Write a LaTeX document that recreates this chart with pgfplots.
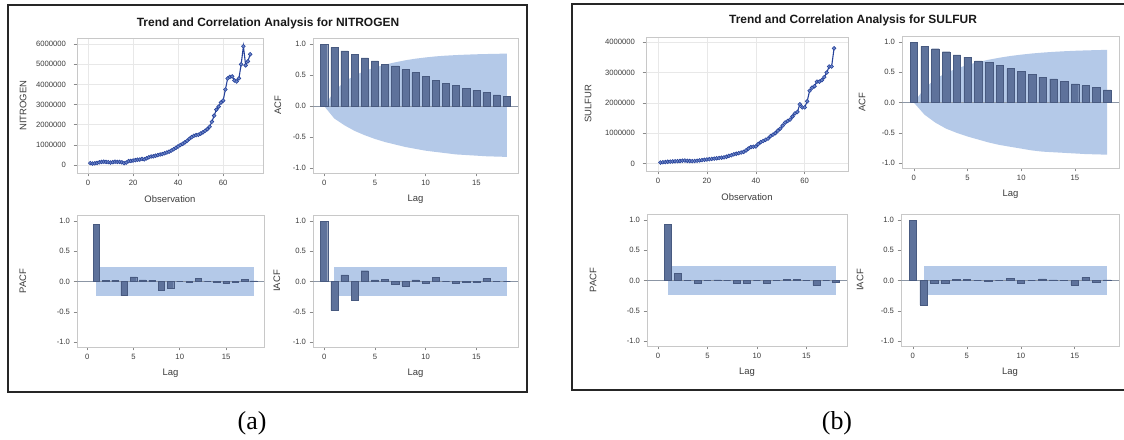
\documentclass[border=0pt]{standalone}
\usepackage{pgfplots}
\pgfplotsset{compat=1.18}
\usepackage{fontspec}
\setmainfont{Liberation Sans}
\newfontfamily\seriffont{Liberation Serif}
\definecolor{barfill}{RGB}{94,114,155}
\definecolor{baredge}{RGB}{72,90,128}
\definecolor{band}{RGB}{180,201,232}
\definecolor{framec}{RGB}{200,200,200}
\definecolor{tickc}{RGB}{60,60,60}
\definecolor{linec}{RGB}{38,66,155}
\definecolor{markc}{RGB}{110,135,200}
\definecolor{gridc}{RGB}{232,232,232}
\definecolor{zeroc}{RGB}{140,150,165}

\pgfplotsset{
  sasbase/.style={
    scale only axis,
    anchor=south west,
    axis line style={framec, line width=0.9pt},
    tick style={color=tickc!60, line width=0.6pt},
    tick align=outside,
    major tick length=3.5pt,
    xtick pos=bottom, ytick pos=left,
    /pgf/number format/assume math mode=true,
    ticklabel style={font=\fontsize{7.7}{8}\selectfont, text=tickc},
    label style={font=\fontsize{9.5}{10}\selectfont, text=tickc},
    xlabel shift=3pt,
    every axis y label/.style={rotate=90, anchor=center, font=\fontsize{9.5}{10}\selectfont, text=tickc},
  },
  corr/.style={
    sasbase,
    xmin=-1.1, xmax=19.1, ymin=-1.08, ymax=1.1,
    xtick={0,5,10,15}, ytick={-1,-0.5,0,0.5,1},
    yticklabel={\pgfmathprintnumber[fixed,fixed zerofill,precision=1,assume math mode=true]{\tick}},
    xlabel={Lag},
  },
  bars/.style={ybar, bar width=0.7, fill=barfill, draw=baredge, line width=0.4pt},
  zeroline/.style={zeroc, line width=0.8pt, forget plot},
  series/.style={linec, line width=1.1pt, mark=*, mark size=1.9pt,
    mark options={fill=markc, draw=linec, line width=0.6pt}},
  obsaxis/.style={
    sasbase,
    xmin=-4.9, xmax=77.7,
    xtick={0,20,40,60},
    scaled y ticks=false,
    yticklabel style={/pgf/number format/fixed, /pgf/number format/1000 sep={}, xshift=-4bp},
    grid=major, major grid style={gridc, line width=0.6pt},
    xlabel={Observation},
  },
}

\pgfplotstableread{
x y
1 90000
2 70000
3 80000
4 100000
5 130000
6 150000
7 160000
8 150000
9 140000
10 120000
11 140000
12 160000
13 150000
14 150000
15 130000
16 90000
17 120000
18 190000
19 200000
20 220000
21 240000
22 260000
23 270000
24 300000
25 280000
26 330000
27 380000
28 420000
29 430000
30 460000
31 490000
32 520000
33 540000
34 580000
35 620000
36 660000
37 720000
38 780000
39 850000
40 920000
41 990000
42 1050000
43 1120000
44 1200000
45 1300000
46 1380000
47 1450000
48 1480000
49 1500000
50 1560000
51 1620000
52 1700000
53 1780000
54 1900000
55 2150000
56 2450000
57 2750000
58 2900000
59 3100000
60 3200000
61 3750000
62 4300000
63 4380000
64 4400000
65 4200000
66 4150000
67 4300000
68 5000000
69 5900000
70 4950000
71 5150000
72 5500000
}\nitrogen

\pgfplotstableread{
x y
1 30000
2 40000
3 45000
4 55000
5 60000
6 65000
7 70000
8 75000
9 80000
10 90000
11 95000
12 85000
13 80000
14 75000
15 80000
16 90000
17 100000
18 110000
19 120000
20 130000
21 140000
22 150000
23 160000
24 170000
25 180000
26 190000
27 200000
28 220000
29 250000
30 270000
31 300000
32 320000
33 340000
34 360000
35 380000
36 430000
37 490000
38 540000
39 550000
40 560000
41 640000
42 700000
43 740000
44 780000
45 820000
46 900000
47 950000
48 1000000
49 1080000
50 1150000
51 1250000
52 1350000
53 1400000
54 1450000
55 1550000
56 1650000
57 1700000
58 1950000
59 1850000
60 1850000
61 2050000
62 2400000
63 2500000
64 2550000
65 2700000
66 2700000
67 2750000
68 2850000
69 3000000
70 3200000
71 3200000
72 3800000
}\sulfur

\begin{document}
\begin{tikzpicture}
\useasboundingbox (0,0) rectangle (1124bp,440bp);
\fill[white] (0,0) rectangle (1124bp,440bp);
% panel boxes
\draw[black!85, line width=1.5bp] (8bp,48bp) rectangle (527bp,435bp);
\draw[black!85, line width=1.5bp] (572bp,50bp) rectangle (1136bp,436bp);
% titles
\node[font=\bfseries\fontsize{12}{13}\selectfont, text=black!90] at (268bp,417bp) {Trend and Correlation Analysis for NITROGEN};
\node[font=\bfseries\fontsize{12}{13}\selectfont, text=black!90] at (853bp,420bp) {Trend and Correlation Analysis for SULFUR};
% captions
\node[font=\seriffont\fontsize{26}{28}\selectfont] at (252bp,17bp) {(a)};
\node[font=\seriffont\fontsize{26}{28}\selectfont] at (837bp,17bp) {(b)};

% ===== (a) NITROGEN =====
\begin{axis}[obsaxis, at={(77bp,267bp)}, width=186bp, height=135bp,
  ymin=-400000, ymax=6310000,
  ytick={0,1000000,2000000,3000000,4000000,5000000,6000000},
  ylabel={NITROGEN}, ylabel style={at={(axis description cs:-0.290,0.5)}}]
\addplot[series] table[x=x,y=y] {\nitrogen};
\end{axis}

\begin{axis}[corr, at={(313bp,267bp)}, width=205bp, height=135bp,
  ylabel={ACF}, ylabel style={at={(axis description cs:-0.171,0.5)}}]
\addplot[fill=band, draw=none, forget plot] coordinates {
(0,0) (1,0.236) (2,0.395) (3,0.494) (4,0.568) (5,0.624) (6,0.670) (7,0.707) (8,0.740) (9,0.766) (10,0.786) (11,0.803) (12,0.815) (13,0.824) (14,0.831) (15,0.837) (16,0.841) (17,0.845) (18,0.847)
(18,-0.82) (17,-0.815) (16,-0.81) (15,-0.80) (14,-0.79) (13,-0.78) (12,-0.76) (11,-0.74) (10,-0.72) (9,-0.69) (8,-0.66) (7,-0.62) (6,-0.58) (5,-0.53) (4,-0.47) (3,-0.40) (2,-0.31) (1,-0.20) (0,0)};
\addplot[zeroline] coordinates {(-1.1,0) (19.1,0)};
\addplot[bars] coordinates {
(0,1.0) (1,0.95) (2,0.89) (3,0.84) (4,0.78) (5,0.73) (6,0.68) (7,0.65) (8,0.59) (9,0.54) (10,0.48) (11,0.42) (12,0.37) (13,0.33) (14,0.29) (15,0.26) (16,0.22) (17,0.18) (18,0.16)};
\end{axis}

\begin{axis}[corr, at={(77bp,93bp)}, width=187bp, height=132bp,
  ylabel={PACF}, ylabel style={at={(axis description cs:-0.289,0.5)}}]
\addplot[fill=band, draw=none, forget plot] coordinates {(1,0.235) (18,0.235) (18,-0.235) (1,-0.235)};
\addplot[zeroline] coordinates {(-1.1,0) (19.1,0)};
\addplot[bars] coordinates {
(1,0.95) (2,0.02) (3,0.02) (4,-0.23) (5,0.08) (6,0.03) (7,0.02) (8,-0.14) (9,-0.11) (10,0.0) (11,-0.01) (12,0.05) (13,0.0) (14,-0.01) (15,-0.03) (16,-0.01) (17,0.04) (18,0.01)};
\end{axis}

\begin{axis}[corr, at={(313bp,93bp)}, width=205bp, height=132bp,
  ylabel={IACF}, ylabel style={at={(axis description cs:-0.176,0.5)}}]
\addplot[fill=band, draw=none, forget plot] coordinates {(1,0.235) (18,0.235) (18,-0.235) (1,-0.235)};
\addplot[zeroline] coordinates {(-1.1,0) (19.1,0)};
\addplot[bars] coordinates {
(0,1.0) (1,-0.48) (2,0.11) (3,-0.31) (4,0.18) (5,0.03) (6,0.04) (7,-0.04) (8,-0.07) (9,0.03) (10,-0.02) (11,0.07) (12,0.0) (13,-0.03) (14,-0.01) (15,-0.01) (16,0.05) (17,0.0) (18,0.0)};
\end{axis}

% ===== (b) SULFUR =====
\begin{axis}[obsaxis, at={(646bp,269bp)}, width=202bp, height=134bp,
  ymin=-250000, ymax=4175000,
  ytick={0,1000000,2000000,3000000,4000000},
  ylabel={SULFUR}, ylabel style={at={(axis description cs:-0.287,0.5)}}]
\addplot[series] table[x=x,y=y] {\sulfur};
\end{axis}

\begin{axis}[corr, at={(902bp,272bp)}, width=217bp, height=132bp,
  ylabel={ACF}, ylabel style={at={(axis description cs:-0.184,0.5)}}]
\addplot[fill=band, draw=none, forget plot] coordinates {
(0,0) (1,0.236) (2,0.389) (3,0.490) (4,0.564) (5,0.622) (6,0.671) (7,0.709) (8,0.742) (9,0.770) (10,0.792) (11,0.811) (12,0.826) (13,0.838) (14,0.848) (15,0.856) (16,0.862) (17,0.867) (18,0.871)
(18,-0.86) (17,-0.855) (16,-0.85) (15,-0.84) (14,-0.83) (13,-0.82) (12,-0.81) (11,-0.79) (10,-0.76) (9,-0.73) (8,-0.70) (7,-0.66) (6,-0.61) (5,-0.56) (4,-0.50) (3,-0.43) (2,-0.33) (1,-0.20) (0,0)};
\addplot[zeroline] coordinates {(-1.1,0) (19.1,0)};
\addplot[bars] coordinates {
(0,1.0) (1,0.93) (2,0.89) (3,0.84) (4,0.79) (5,0.75) (6,0.69) (7,0.66) (8,0.61) (9,0.56) (10,0.52) (11,0.47) (12,0.42) (13,0.39) (14,0.35) (15,0.31) (16,0.28) (17,0.25) (18,0.21)};
\end{axis}

\begin{axis}[corr, at={(647bp,94bp)}, width=200bp, height=132bp,
  ylabel={PACF}, ylabel style={at={(axis description cs:-0.27,0.5)}}]
\addplot[fill=band, draw=none, forget plot] coordinates {(1,0.235) (18,0.235) (18,-0.235) (1,-0.235)};
\addplot[zeroline] coordinates {(-1.1,0) (19.1,0)};
\addplot[bars] coordinates {
(1,0.93) (2,0.12) (3,0.0) (4,-0.04) (5,0.0) (6,0.01) (7,0.0) (8,-0.05) (9,-0.05) (10,0.0) (11,-0.04) (12,0.0) (13,0.02) (14,0.02) (15,0.0) (16,-0.08) (17,0.0) (18,-0.02)};
\end{axis}

\begin{axis}[corr, at={(901bp,94bp)}, width=218bp, height=132bp,
  ylabel={IACF}, ylabel style={at={(axis description cs:-0.188,0.5)}}]
\addplot[fill=band, draw=none, forget plot] coordinates {(1,0.235) (18,0.235) (18,-0.235) (1,-0.235)};
\addplot[zeroline] coordinates {(-1.1,0) (19.1,0)};
\addplot[bars] coordinates {
(0,1.0) (1,-0.40) (2,-0.05) (3,-0.04) (4,0.02) (5,0.02) (6,0.0) (7,-0.01) (8,0.0) (9,0.04) (10,-0.05) (11,0.0) (12,0.03) (13,0.01) (14,0.0) (15,-0.07) (16,0.05) (17,-0.02) (18,0.01)};
\end{axis}
\end{tikzpicture}
\end{document}
